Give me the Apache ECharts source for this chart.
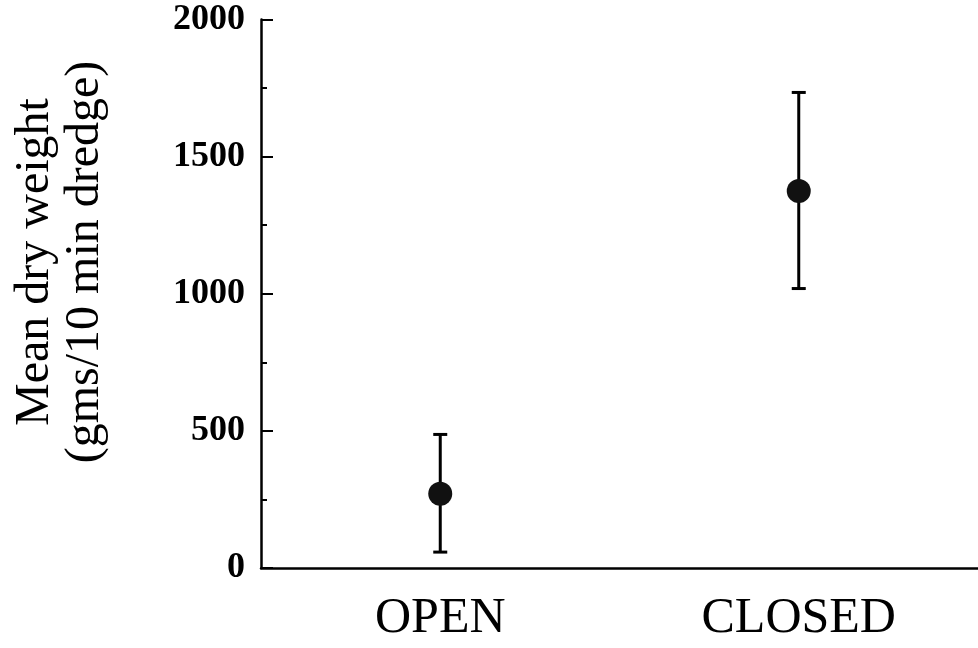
<!DOCTYPE html>
<html>
<head>
<meta charset="utf-8">
<script src="https://cdn.jsdelivr.net/npm/echarts@6/dist/echarts.min.js"></script>
<style>html,body{margin:0;padding:0;background:#fff}#c{width:978px;height:648px}</style>
</head>
<body>
<div id="c"></div>
<script>
var categories = ['OPEN', 'CLOSED'];
var means = [271, 1375];
var upper = [487, 1734];
var lower = [58, 1019];
var yTicks = [0, 500, 1000, 1500, 2000];
var yTitle = ['Mean dry weight', '(gms/10 min dredge)'];

var chart = echarts.init(document.getElementById('c'), null, {renderer: 'canvas'});
var serif = '"Liberation Serif", "Times New Roman", serif';
chart.setOption({
  animation: false,
  backgroundColor: '#fff',
  grid: {left: 261, top: 19.5, width: 720, bottom: 80, containLabel: false},
  xAxis: {
    type: 'category',
    data: categories,
    boundaryGap: true,
    axisLine: {lineStyle: {color: '#000', width: 2.5}},
    axisTick: {alignWithLabel: true, length: 10, lineStyle: {color: '#000', width: 2}},
    axisLabel: {color: '#000', fontFamily: serif, fontSize: 50, margin: 26},
    splitLine: {show: false}
  },
  yAxis: {
    type: 'value',
    min: yTicks[0],
    max: yTicks[yTicks.length - 1],
    interval: 500,
    axisLine: {show: true, lineStyle: {color: '#000', width: 2.5}},
    axisTick: {show: true, inside: true, length: 12, lineStyle: {color: '#000', width: 2}},
    minorTick: {show: true, splitNumber: 2, length: 6, lineStyle: {color: '#000', width: 2}},
    axisLabel: {
      color: '#000', fontFamily: serif, fontWeight: 'bold', fontSize: 36, margin: 16,
      formatter: function (v) { return String(v); }
    },
    splitLine: {show: false}
  },
  graphic: [{
    type: 'text',
    x: 60,
    y: 262,
    rotation: Math.PI / 2,
    style: {
      text: yTitle.join('\n'),
      fill: '#000',
      font: '48px ' + serif,
      align: 'center',
      verticalAlign: 'middle',
      lineHeight: 50
    }
  }],
  series: [
    {
      type: 'custom',
      renderItem: function (params, api) {
        var x = api.coord([api.value(0), 0])[0];
        var yt = api.coord([api.value(0), api.value(1)])[1];
        var yb = api.coord([api.value(0), api.value(2)])[1];
        var hw = 7;
        var st = {stroke: '#000', lineWidth: 3};
        return {
          type: 'group',
          children: [
            {type: 'line', shape: {x1: x, y1: yt, x2: x, y2: yb}, style: st},
            {type: 'line', shape: {x1: x - hw, y1: yt, x2: x + hw, y2: yt}, style: st},
            {type: 'line', shape: {x1: x - hw, y1: yb, x2: x + hw, y2: yb}, style: st}
          ]
        };
      },
      data: categories.map(function (c, i) { return [i, upper[i], lower[i]]; }),
      z: 2
    },
    {
      type: 'scatter',
      data: categories.map(function (c, i) { return [i, means[i]]; }),
      symbol: 'circle',
      symbolSize: 24,
      itemStyle: {color: '#111', opacity: 1},
      z: 3
    }
  ]
});
</script>
</body>
</html>
